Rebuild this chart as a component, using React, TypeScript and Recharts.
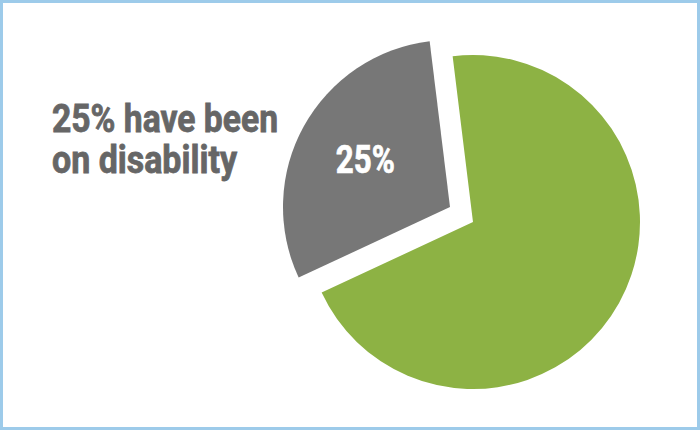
import React from 'react';
import { PieChart, Pie, Cell } from 'recharts';

// slice order: the pulled-out slice first, then the rest
const categories = ['On disability', 'Not on disability'];
const shares = [30, 70];
const sliceLabels = ['25%', ''];
const titleLines = ['25% have been', 'on disability'];

const GRAY = '#777777';
const GREEN = '#8db244';
const TEXT = '#666666';
const RADIAN = Math.PI / 180;

const chartData = categories.map((name, i) => ({ name, value: shares[i], label: sliceLabels[i] }));

function renderSliceLabel(props: any) {
  const { cx, cy, midAngle, outerRadius, index } = props;
  if (index !== 0) return null;
  const r = outerRadius * 0.58;
  const x = cx + r * Math.cos(-midAngle * RADIAN);
  const y = cy + r * Math.sin(-midAngle * RADIAN);
  return (
    <text
      x={x}
      y={y}
      dy={13}
      fill="#ffffff"
      stroke="#ffffff"
      strokeWidth={0.7}
      textAnchor="middle"
      fontFamily="Roboto, sans-serif"
      fontWeight={700}
      fontSize={38}
      textLength={59}
      lengthAdjust="spacingAndGlyphs"
    >
      {chartData[index].label}
    </text>
  );
}

export default function App() {
  return (
    <div style={{ position: 'relative', width: 700, height: 430, background: '#fff' }}>
      <style>{'body{margin:0}'}</style>
      <PieChart width={700} height={430} margin={{ top: 0, right: 0, bottom: 0, left: 0 }}>
        {/* main pie: only the green part */}
        <Pie
          data={chartData}
          dataKey="value"
          cx={473}
          cy={222}
          outerRadius={167}
          startAngle={97}
          endAngle={457}
          stroke="none"
          isAnimationActive={false}
        >
          {chartData.map((d, i) => (
            <Cell key={d.name} fill={i === 0 ? 'transparent' : GREEN} />
          ))}
        </Pie>
        {/* same pie, shifted out, only the gray slice */}
        <Pie
          data={chartData}
          dataKey="value"
          cx={450}
          cy={207}
          outerRadius={167}
          startAngle={97}
          endAngle={457}
          stroke="none"
          labelLine={false}
          label={renderSliceLabel}
          isAnimationActive={false}
        >
          {chartData.map((d, i) => (
            <Cell key={d.name} fill={i === 0 ? GRAY : 'transparent'} />
          ))}
        </Pie>
      </PieChart>
      <svg width={700} height={430} style={{ position: 'absolute', left: 0, top: 0, pointerEvents: 'none' }}>
        <text x={52} y={132} fill={TEXT} stroke={TEXT} strokeWidth={0.8} fontFamily="Roboto, sans-serif"
          fontWeight={700} fontSize={38} textLength={226} lengthAdjust="spacingAndGlyphs">
          {titleLines[0]}
        </text>
        <text x={52} y={173} fill={TEXT} stroke={TEXT} strokeWidth={0.8} fontFamily="Roboto, sans-serif"
          fontWeight={700} fontSize={38} textLength={185} lengthAdjust="spacingAndGlyphs">
          {titleLines[1]}
        </text>
      </svg>
      <div style={{ position: 'absolute', inset: 0, border: '3px solid #9dcbea', boxSizing: 'border-box', pointerEvents: 'none' }} />
    </div>
  );
}
